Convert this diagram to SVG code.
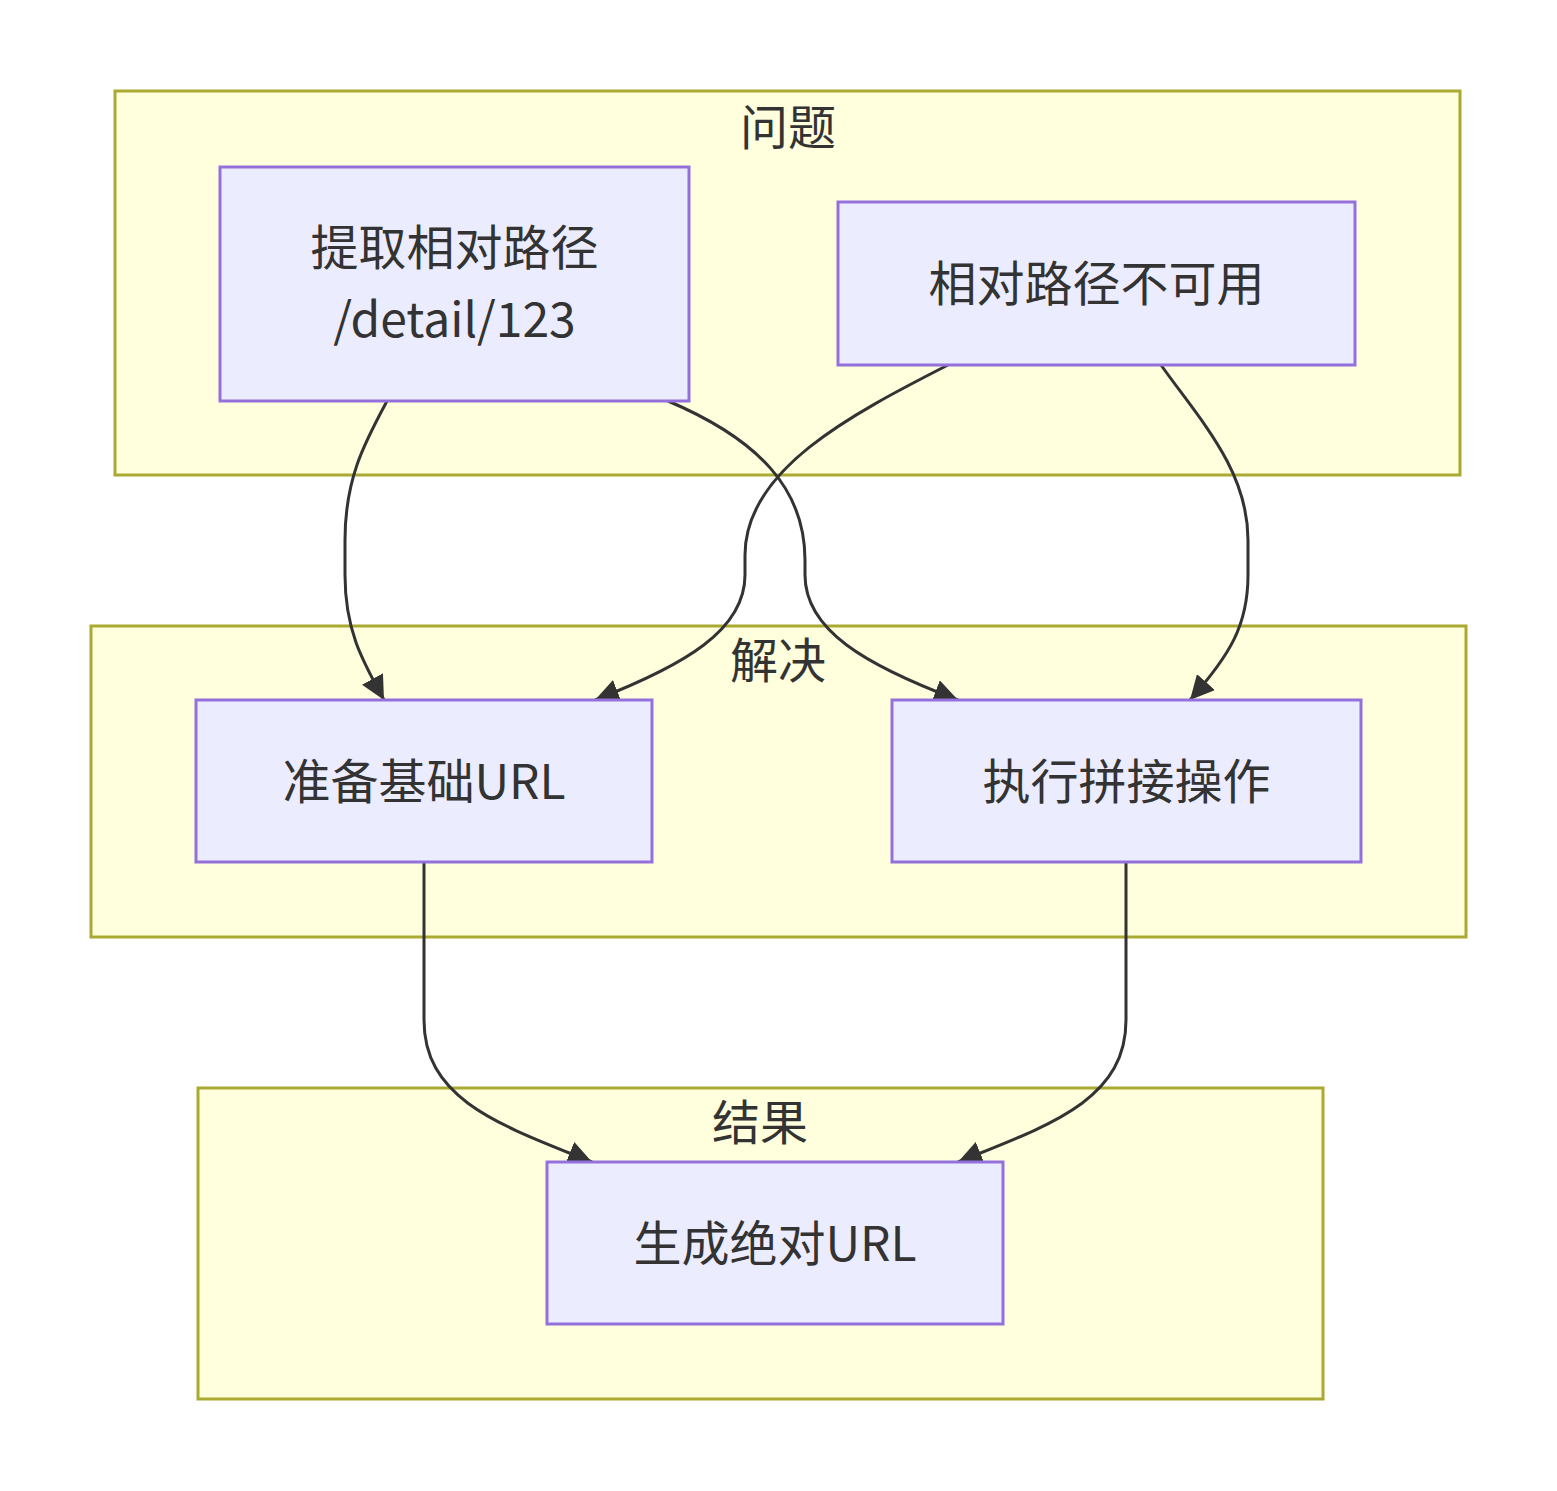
<svg xmlns="http://www.w3.org/2000/svg" width="1557" height="1491" viewBox="0 0 1557 1491">
<style>
.cluster rect{fill:#ffffde;stroke:#aaaa33;stroke-width:3}
.node rect{fill:#ececff;stroke:#9370db;stroke-width:3}
text{font-family:"Noto Sans CJK SC","Noto Sans",sans-serif;font-size:48px;fill:#333333;text-anchor:middle;dominant-baseline:central}
.edges path{fill:none;stroke:#333333;stroke-width:3}
</style>
<defs>
<marker id="arrow" viewBox="0 0 10 10" refX="10" refY="5" markerUnits="userSpaceOnUse" markerWidth="24" markerHeight="24" orient="auto">
<path d="M0,0 L10,5 L0,10 z" fill="#333333"/>
</marker>
</defs>
<rect width="1557" height="1491" fill="#ffffff"/>
<g id="cluster-problem" class="cluster">
<rect x="115" y="91" width="1345" height="384"/>
<text x="788" y="124">问题</text>
</g>
<g id="cluster-solve" class="cluster">
<rect x="91" y="626" width="1375" height="311"/>
<text x="778" y="657">解决</text>
</g>
<g id="cluster-result" class="cluster">
<rect x="198" y="1088" width="1125" height="311"/>
<text x="760" y="1119">结果</text>
</g>
<g id="connectors" class="edges">
<path d="M387,401 C365,442 345,478 345,540 L345,575 C345,630 362,660 384,700" marker-end="url(#arrow)"/>
<path d="M668,401 C760,440 805,490 805,560 L805,575 C805,630 865,665 958,700" marker-end="url(#arrow)"/>
<path d="M948,365 C850,415 745,470 745,555 L745,575 C745,630 685,665 595,700" marker-end="url(#arrow)"/>
<path d="M1161,365 C1200,420 1248,470 1248,540 L1248,575 C1248,625 1230,655 1190,700" marker-end="url(#arrow)"/>
<path d="M424,862 L424,1020 C424,1100 500,1125 592,1162" marker-end="url(#arrow)"/>
<path d="M1126,862 L1126,1020 C1126,1100 1050,1125 958,1162" marker-end="url(#arrow)"/>
</g>
<g id="node-extract" class="node">
<rect x="220" y="167" width="469" height="234"/>
<text x="454.5" y="244">提取相对路径</text>
<text x="454.5" y="316">/detail/123</text>
</g>
<g id="node-unusable" class="node">
<rect x="838" y="202" width="517" height="163"/>
<text x="1096.5" y="280">相对路径不可用</text>
</g>
<g id="node-base" class="node">
<rect x="196" y="700" width="456" height="162"/>
<text x="424" y="778">准备基础URL</text>
</g>
<g id="node-concat" class="node">
<rect x="892" y="700" width="469" height="162"/>
<text x="1126.5" y="778">执行拼接操作</text>
</g>
<g id="node-absolute" class="node">
<rect x="547" y="1162" width="456" height="162"/>
<text x="775" y="1240">生成绝对URL</text>
</g>
</svg>
